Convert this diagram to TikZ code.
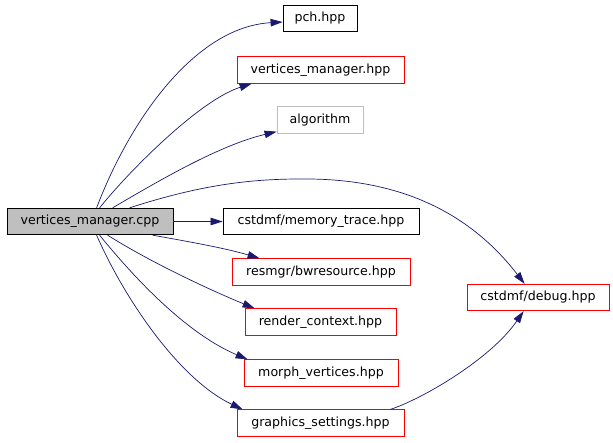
\documentclass[tikz,border=0pt]{standalone}
\usepackage{fontspec}
\setmainfont{DejaVu Sans}
\usetikzlibrary{arrows.meta,calc}
\definecolor{edgeblue}{HTML}{191970}
\definecolor{boxgray}{HTML}{BFBFBF}
\begin{document}
\begin{tikzpicture}[x=1pt,y=-1pt,
  box/.style={draw=black,line width=0.8pt,inner sep=0pt,minimum height=26.5pt,
    font=\fontsize{12.6}{15}\selectfont},
  redbox/.style={box,draw=red},
  graybox/.style={box,draw=boxgray},
  mainbox/.style={box,fill=boxgray},
  edge/.style={draw=edgeblue,line width=0.7pt,-{Triangle[length=12pt,width=7.5pt]}}]
\useasboundingbox (0,0) rectangle (613,442);
\node[mainbox,minimum width=166pt] (main) at (90,221.5) {vertices\_manager.cpp};
\node[box,minimum width=74pt] (pch) at (320,18.5) {pch.hpp};
\node[redbox,minimum width=167pt] (vmh) at (320.5,70) {vertices\_manager.hpp};
\node[graybox,minimum width=86pt] (algo) at (320,120) {algorithm};
\node[box,minimum width=196pt] (memtr) at (321,221.5) {cstdmf/memory\_trace.hpp};
\node[redbox,minimum width=178pt] (bwres) at (321,272) {resmgr/bwresource.hpp};
\node[redbox,minimum width=151pt] (render) at (320.5,322) {render\_context.hpp};
\node[redbox,minimum width=154pt] (morph) at (321,373) {morph\_vertices.hpp};
\node[redbox,minimum width=167pt] (graphics) at (320.5,423) {graphics\_settings.hpp};
\node[redbox,minimum width=142pt] (debug) at (538,297.5) {cstdmf/debug.hpp};

\draw[edge] ($(main.north west)+(90,0)$) .. controls (130,120) and (195,27) .. ($(pch.west)+(0,3.5)$);
\draw[edge] ($(main.north west)+(93,0)$) .. controls (130,170) and (200,100) .. ($(vmh.south west)+(15,0)$);
\draw[edge] ($(main.north west)+(106,0)$) .. controls (160,180) and (220,145) .. ($(algo.south west)+(0,-2)$);
\draw[edge] ($(main.north west)+(123,0)$) .. controls (200,185) and (250,179) .. (300,179)
  .. controls (380,178) and (460,200) .. ($(debug.north west)+(58,0)$);
\draw[edge] (main.east) -- (memtr.west);
\draw[edge] ($(main.south west)+(146,0)$) .. controls (185,241) and (225,248) .. ($(bwres.north west)+(28,0)$);
\draw[edge] ($(main.south west)+(101,0)$) .. controls (150,262) and (210,290) .. ($(render.north west)+(10,0)$);
\draw[edge] ($(main.south west)+(93,0)$) .. controls (140,285) and (190,335) .. ($(morph.north west)+(4,0)$);
\draw[edge] ($(main.south west)+(90,0)$) .. controls (125,300) and (180,380) .. ($(graphics.north west)+(6,0)$);
\draw[edge] ($(graphics.north east)+(-14,0)$) .. controls (420,400) and (490,360) .. ($(debug.south west)+(57,0)$);
\end{tikzpicture}
\end{document}
